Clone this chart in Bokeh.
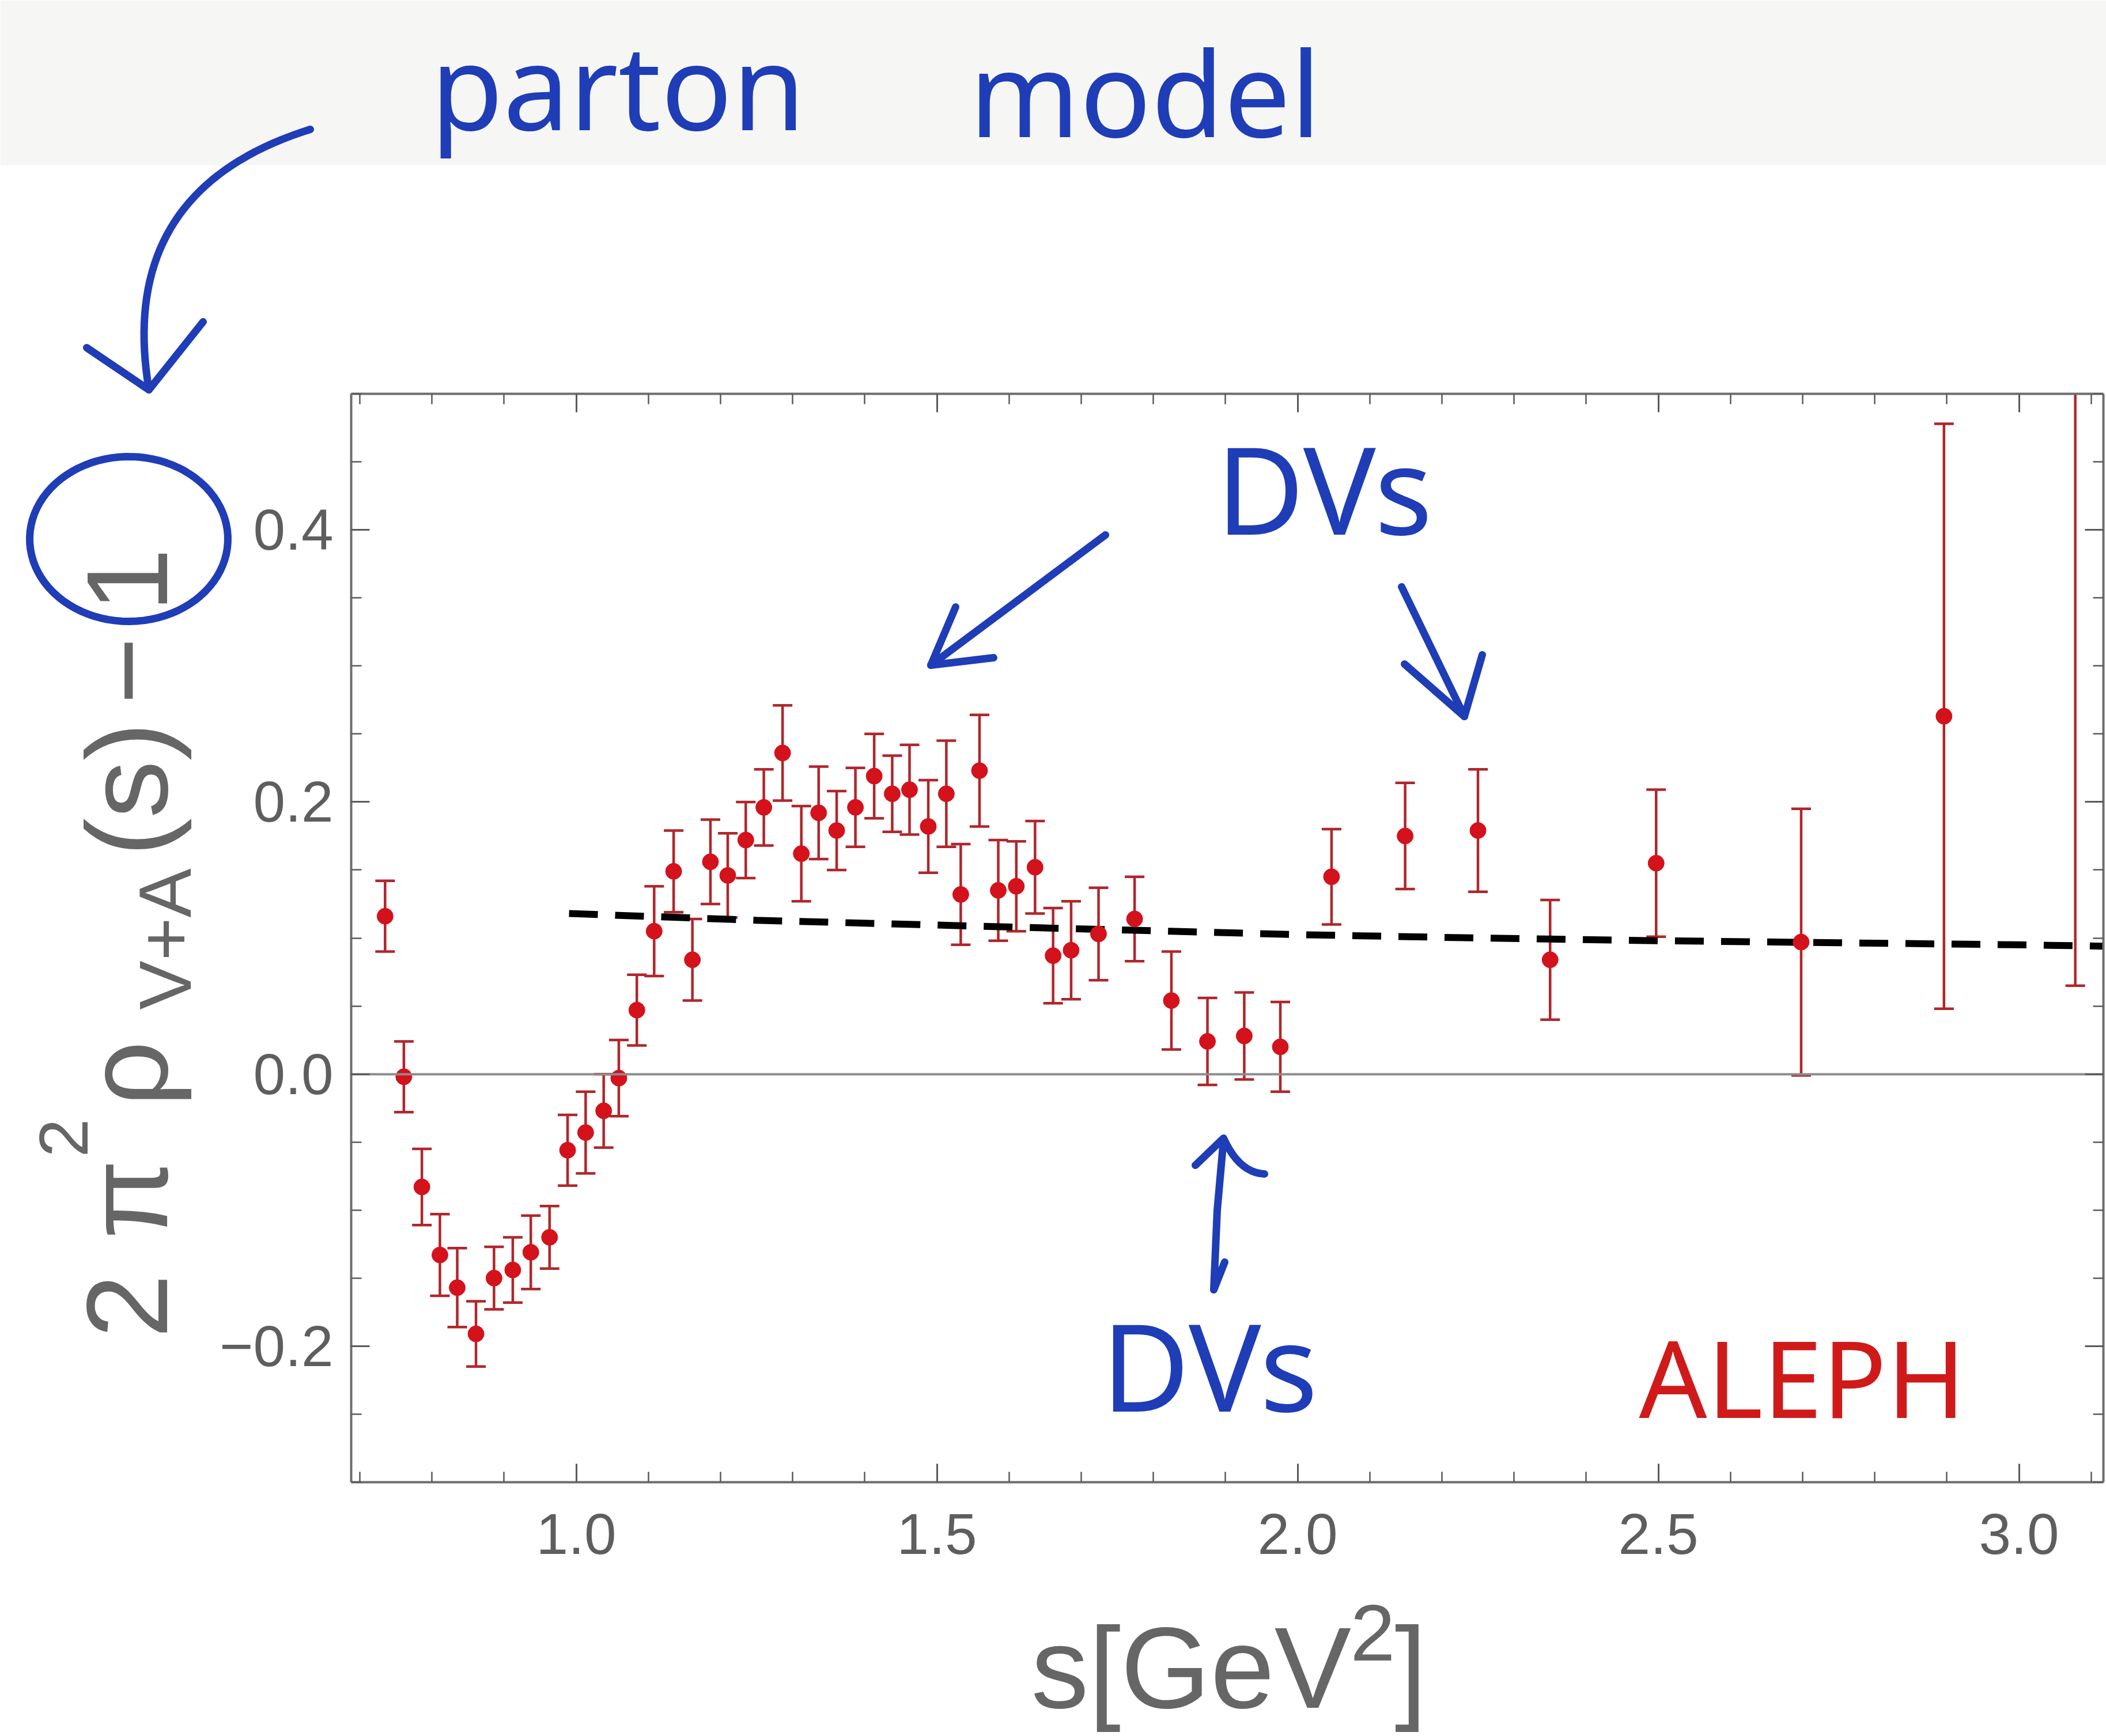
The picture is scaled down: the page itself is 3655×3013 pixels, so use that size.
import numpy as np
from bokeh.plotting import figure
from bokeh.models import (ColumnDataSource, Range1d, FixedTicker, LinearAxis, Label,
                          PolyAnnotation, CDSView, BooleanFilter)
from bokeh.embed import file_html
from bokeh.resources import INLINE

# ALEPH V+A spectral function: 2 pi^2 rho_{V+A}(s) - 1 with errors
s_gev2 = [0.735, 0.761, 0.786, 0.811, 0.835, 0.861, 0.886, 0.912, 0.937, 0.963,
          0.988, 1.013, 1.038, 1.059, 1.084, 1.108, 1.135, 1.161, 1.186, 1.210,
          1.235, 1.260, 1.286, 1.312, 1.336, 1.361, 1.387, 1.413, 1.438, 1.462,
          1.488, 1.513, 1.533, 1.559, 1.585, 1.610, 1.636, 1.661, 1.686, 1.724,
          1.774, 1.825, 1.875, 1.926, 1.976, 2.047, 2.149, 2.250, 2.350, 2.497,
          2.698, 2.896, 3.078]
rho_minus_one = [0.116, -0.002, -0.083, -0.133, -0.157, -0.191, -0.150, -0.144, -0.131, -0.120,
                 -0.056, -0.043, -0.027, -0.003, 0.047, 0.105, 0.149, 0.084, 0.156, 0.146,
                 0.172, 0.196, 0.236, 0.162, 0.192, 0.179, 0.196, 0.219, 0.206, 0.209,
                 0.182, 0.206, 0.132, 0.223, 0.135, 0.138, 0.152, 0.087, 0.091, 0.103,
                 0.114, 0.054, 0.024, 0.028, 0.020, 0.145, 0.175, 0.179, 0.084, 0.155,
                 0.097, 0.263, 0.620]
rho_err = [0.026, 0.026, 0.028, 0.030, 0.029, 0.024, 0.023, 0.024, 0.027, 0.023,
           0.026, 0.030, 0.027, 0.028, 0.026, 0.033, 0.030, 0.030, 0.031, 0.031,
           0.028, 0.028, 0.035, 0.035, 0.034, 0.029, 0.029, 0.031, 0.028, 0.033,
           0.034, 0.039, 0.037, 0.041, 0.037, 0.033, 0.034, 0.035, 0.036, 0.034,
           0.031, 0.036, 0.032, 0.032, 0.033, 0.035, 0.039, 0.045, 0.044, 0.054,
           0.098, 0.215, 0.555]

# perturbative curve (dashed)
pqcd_s = [0.99, 1.25, 1.5, 1.75, 2.0, 2.25, 2.5, 2.75, 3.0, 3.117]
pqcd_val = [0.118, 0.113, 0.1095, 0.106, 0.1025, 0.100, 0.098, 0.0965, 0.095, 0.094]

x_tick_values = [1.0, 1.5, 2.0, 2.5, 3.0]
x_tick_labels = ["1.0", "1.5", "2.0", "2.5", "3.0"]
y_tick_values = [-0.2, 0.0, 0.2, 0.4]
y_tick_labels = ["\u22120.2", "0.0", "0.2", "0.4"]

# page size and the plot box inside it (pixels from the top-left corner)
W, H = 3655, 3013
BOX_L, BOX_R, BOX_T, BOX_B = 609, 3650, 683, 2572
X0, X1 = 0.688, 3.117
Y0, Y1 = -0.3, 0.5

# the frame covers the whole page; the data box is drawn with fixed-location axes
ppx = (BOX_R - BOX_L) / (X1 - X0)
ppy = (BOX_B - BOX_T) / (Y1 - Y0)
XR0, XR1 = X0 - BOX_L / ppx, X1 + (W - BOX_R) / ppx
YR0, YR1 = Y0 - (H - BOX_B) / ppy, Y1 + BOX_T / ppy

FRAME = "#6e6e6e"
TICK = "#5a5a5a"
TICKLAB = "#5e5e5e"
AXLAB = "#666666"
DOT = "#d3121c"
BAR = "#b0262b"
INK_BLUE = "#1e3db6"
INK_RED = "#d01a1a"


def fx(X):
    return XR0 + X / W * (XR1 - XR0)


def fy(Y):
    return YR1 - Y / H * (YR1 - YR0)


p = figure(width=W, height=H, output_backend="svg", toolbar_location=None, title=None,
           x_range=Range1d(XR0, XR1), y_range=Range1d(YR0, YR1),
           x_axis_type=None, y_axis_type=None, min_border=0,
           background_fill_color="white", border_fill_color="white")
p.outline_line_color = None

# light band across the top of the page
p.add_layout(PolyAnnotation(xs=[fx(0), fx(W), fx(W), fx(0)],
                            ys=[fy(0), fy(0), fy(286), fy(286)],
                            fill_color="#f6f6f4", fill_alpha=1, line_alpha=0,
                            level="underlay"))

x_ticker = FixedTicker(ticks=x_tick_values,
                       minor_ticks=[round(v, 2) for v in np.arange(0.7, 3.11, 0.1)])
y_ticker = FixedTicker(ticks=y_tick_values,
                       minor_ticks=[round(v, 3) for v in np.arange(-0.3, 0.501, 0.05)])


def make_axis(ticker, location, bounds, show_labels):
    ax = LinearAxis(ticker=ticker, fixed_location=location, bounds=bounds)
    ax.axis_line_color = FRAME
    ax.axis_line_width = 4
    ax.major_tick_in = 32
    ax.major_tick_out = 0
    ax.minor_tick_in = 18
    ax.minor_tick_out = 0
    ax.major_tick_line_color = TICK
    ax.major_tick_line_width = 3
    ax.minor_tick_line_color = TICK
    ax.minor_tick_line_width = 2.5
    ax.major_label_text_font = "Liberation Sans"
    ax.major_label_text_color = TICKLAB
    ax.major_label_text_font_size = "100px" if show_labels else "0px"
    return ax


bottom_axis = make_axis(x_ticker, Y0, (X0, X1), True)
top_axis = make_axis(x_ticker, Y1, (X0, X1), False)
left_axis = make_axis(y_ticker, X0, (Y0, Y1), True)
right_axis = make_axis(y_ticker, X1, (Y0, Y1), False)
bottom_axis.major_label_standoff = 55
left_axis.major_label_standoff = 31
bottom_axis.major_label_overrides = dict(zip(x_tick_values, x_tick_labels))
left_axis.major_label_overrides = dict(zip(y_tick_values, y_tick_labels))
top_axis.major_label_overrides = {v: "" for v in x_tick_values}
right_axis.major_label_overrides = {v: "" for v in y_tick_values}

# horizontal axis through zero
zero_axis = LinearAxis(ticker=FixedTicker(ticks=[]), fixed_location=0.0, bounds=(X0, X1),
                       axis_line_color="#8c8c8c", axis_line_width=4,
                       major_tick_line_alpha=0, minor_tick_line_alpha=0,
                       major_label_text_font_size="0px")

p.add_layout(zero_axis, "below")
p.add_layout(bottom_axis, "below")
p.add_layout(top_axis, "above")
p.add_layout(left_axis, "left")
p.add_layout(right_axis, "right")

lo = [v - e for v, e in zip(rho_minus_one, rho_err)]
hi = [v + e for v, e in zip(rho_minus_one, rho_err)]
src = ColumnDataSource(dict(
    s=s_gev2,
    v=rho_minus_one,
    lo=lo,
    hi=hi,
    lo_box=[max(a, Y0) for a in lo],
    hi_box=[min(b, Y1) for b in hi],
))
in_lo = CDSView(filter=BooleanFilter([Y0 <= a <= Y1 for a in lo]))
in_hi = CDSView(filter=BooleanFilter([Y0 <= b <= Y1 for b in hi]))
in_v = CDSView(filter=BooleanFilter([Y0 <= v <= Y1 for v in rho_minus_one]))

p.segment(x0="s", y0="lo_box", x1="s", y1="hi_box", source=src,
          line_color=BAR, line_width=4.5)
p.scatter(x="s", y="lo", marker="dash", size=34, line_color=BAR, line_width=4.5,
          source=src, view=in_lo)
p.scatter(x="s", y="hi", marker="dash", size=34, line_color=BAR, line_width=4.5,
          source=src, view=in_hi)

p.line(pqcd_s, pqcd_val, line_color="black", line_width=12, line_dash="50 30")

p.scatter(x="s", y="v", size=28, fill_color=DOT, line_color=DOT, source=src, view=in_v)


# hand-drawn strokes (open paths traced forth and back)
def stroke(pts, color=INK_BLUE, width=13):
    xs = [fx(a) for a, b in pts]
    ys = [fy(b) for a, b in pts]
    xs = xs + xs[-2::-1]
    ys = ys + ys[-2::-1]
    p.add_layout(PolyAnnotation(xs=xs, ys=ys, fill_alpha=0, line_color=color,
                                line_alpha=1, line_width=width,
                                line_join="round", line_cap="round"))


def bezier(p0, c, p2, n=40):
    u = np.linspace(0, 1, n)
    return [((1 - a) ** 2 * p0[0] + 2 * (1 - a) * a * c[0] + a ** 2 * p2[0],
             (1 - a) ** 2 * p0[1] + 2 * (1 - a) * a * c[1] + a ** 2 * p2[1]) for a in u]


# curved arrow from "parton model" to the constant 1
stroke(bezier((538, 224), (200, 330), (258, 676)))
stroke([(150, 603), (258, 676), (352, 558)])

# circle around the 1
t = np.linspace(np.radians(75), np.radians(445), 90)
stroke([(223 + 172 * np.cos(a), 935 - 143 * np.sin(a)) for a in t])

# arrows pointing at the oscillations
stroke([(1918, 928), (1615, 1154)])
stroke([(1724, 1141), (1615, 1154), (1658, 1053)])
stroke([(2432, 1018), (2541, 1243)])
stroke([(2437, 1152), (2541, 1243), (2572, 1136)])
stroke([(2125, 2190), (2106, 2238), (2112, 2100), (2123, 1977)])
stroke([(2074, 2022), (2123, 1975)] + bezier((2123, 1975), (2150, 2035), (2194, 2037), 12))

# baseline correction for Label placement, as a fraction of the font size
SHIFT = {"Noto Sans": 0.40, "Liberation Sans": 0.33}


def label(X, Y, text, size, color, font="Noto Sans", rotated=False, align="left"):
    k = SHIFT[font] * size
    if rotated:
        X -= k
    else:
        Y -= k
    p.add_layout(Label(x=fx(X), y=fy(Y), text=text, text_font=font,
                       text_font_size=f"{size}px", text_color=color,
                       angle=np.pi / 2 if rotated else 0.0,
                       text_align=align, text_baseline="alphabetic"))


# handwritten notes
label(1072, 228, "parton", 205, INK_BLUE, align="center")
label(1987, 240, "model", 205, INK_BLUE, align="center")
label(2110, 930, "DVs", 210, INK_BLUE)
label(1911, 2452, "DVs", 210, INK_BLUE)
label(2844, 2462, "ALEPH", 185, INK_RED)

# x-axis title: s[GeV^2]
label(1789, 2960, "s[GeV", 200, AXLAB, font="Liberation Sans")
label(2343, 2880, "2", 140, AXLAB, font="Liberation Sans")
label(2420, 2960, "]", 200, AXLAB, font="Liberation Sans")

# y-axis title: 2 pi^2 rho_{V+A}(s) - 1, reading upwards
label(286, 2322, "2", 200, AXLAB, font="Liberation Sans", rotated=True)
label(286, 2150, "\u03c0", 200, AXLAB, font="Liberation Sans", rotated=True)
label(150, 2008, "2", 120, AXLAB, font="Liberation Sans", rotated=True)
label(286, 1920, "\u03c1", 200, AXLAB, font="Liberation Sans", rotated=True)
label(328, 1752, "V+A", 128, AXLAB, font="Liberation Sans", rotated=True)
label(286, 1486, "(s)", 200, AXLAB, font="Liberation Sans", rotated=True)
label(286, 1222, "\u2212", 200, AXLAB, font="Liberation Sans", rotated=True)
label(286, 1062, "1", 200, AXLAB, font="Liberation Sans", rotated=True)

open("out.html", "w").write(file_html(p, INLINE))
